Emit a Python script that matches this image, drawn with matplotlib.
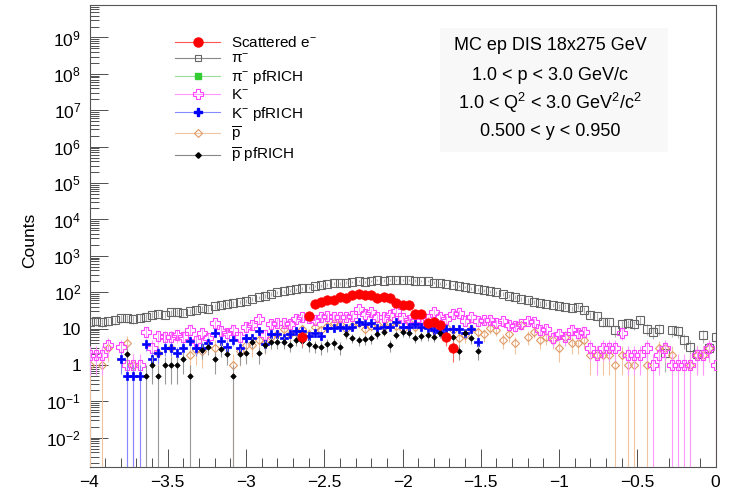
import numpy as np
import matplotlib
matplotlib.use("Agg")
import matplotlib.pyplot as plt
from matplotlib.lines import Line2D
from matplotlib.patches import Rectangle
from matplotlib.ticker import FixedLocator, FuncFormatter, MultipleLocator, NullFormatter

nan = np.nan

# bin centres in eta, step 0.04 from -4 to 0
eta = np.round(np.linspace(-4.0, 0.0, 101), 2)

# scattered electron, bins 34..58
e_first_bin = 34
electron = [5.8, 22, 47, 55, 62, 60, 73, 70, 85, 87, 85, 85, 70, 73, 70,
            52, 45, 46, 26, 26, 14, 15.6, 12.6, 5.8, 2.9]

pion = [15, 16, 15, 16, 17, 19, 19, 18, 20, 21,
        24, 26, 24, 28, 29, 27, 30, 33, 36, 35,
        42, 45, 48, 50, 55, 58, 65, 72, 80, 90,
        100, 105, 115, 120, 128, 135, 150, 155, 165, 175,
        175, 185, 190, 200, 195, 205, 215, 210, 215, 220,
        215, 215, 210, 200, 205, 185, 175, 170, 160, 150,
        140, 130, 120, 115, 105, 100, 90, 80, 75, 65,
        60, 55, 50, 48, 45, 42, 40, 37, 40, 33,
        24, 22, 15, 15, 9, 13, 14, 13, 17, 10,
        8, 10, 2.1, 9, 8.6, 4.9, 3.1, 2.0, 6.7, 2.9,
        6.0]

pion_pfrich = []  # empty in this selection

kaon = [1.9, 1.9, 1.9, 3.5, nan, 3.1, 1.0, 1.0, 1.0, 8.3,
        3.0, 6.3, 6.0, 6.0, 6.5, 6.0, 9.2, 4.7, 7.8, 5.4,
        14, 8.8, 7.4, 9.2, 6.0, 11, 12.6, 18, 6.7, 13.5,
        14.7, 14, 13.5, 18, 21, 19, 17, 21, 22.5, 21,
        21, 21, 22.5, 34, 26, 29.5, 21, 21, 24, 31,
        19.4, 17, 16, 17, 18, 29, 21, 18, 25, 27,
        16, 21, 16, 17, 17.4, 14, 15.9, 12.6, 11.5, 13,
        16.6, 14.9, 9.2, 9.5, 5.5, 7.2, 5.8, 9.2, 7.6, 8.3,
        3.0, 1.9, 3.0, 3.0, 3.0, 7.6, 1.9, 1.9, 1.9, 3.0,
        1.0, 1.9, 3.0, 1.0, 1.0, 1.0, 1.0, 1.9, 1.9, 3.0,
        1.0]

kaon_pfrich = [nan, nan, nan, nan, nan, 1.43, 0.5, 0.5, 0.5, 3.8,
               1.43, 2.1, 3.0, 3.0, 2.1, 3.0, 4.6, 3.0, 3.0, 4.0,
               7.8, 4.6, 3.2, 4.8, 3.0, 5.4, 5.4, 8.8, 3.8, 7.0,
               7.0, 5.4, 7.1, 8.8, 8.8, 6.3, 7.8, 6.3, 10.4, 10.4,
               11.3, 10.4, 11.3, 15.6, 13.7, 14, 10.4, 11.3, 11.3, 15.6,
               11.3, 11.3, 13.7, 11.3, 10.4, 9.2, 8.3, 9.5, 10, 10,
               7.4, 10, 4.4, nan, nan, nan, nan, nan, nan, nan,
               nan, nan, nan, nan, nan, nan, nan, nan, nan, nan,
               nan, nan, nan, nan, nan, nan, nan, nan, nan, nan,
               nan, nan, nan, nan, nan, nan, nan, nan, nan, nan,
               nan]

pbar = [1.0, nan, 1.0, 2.9, nan, nan, 4.1, 1.0, nan, nan,
        nan, 2.1, nan, 2.9, nan, nan, 1.9, 2.6, 2.4, nan,
        3.0, nan, nan, 1.0, 2.5, 3.6, 3.5, 5, 4, 6,
        7, 9.5, 7, 8, 10, 7, 11, 9, 12, 14,
        13, 10, 12, 14, 10, 12, 13, 11, 14, 12,
        10, 15, 11, 12, 13, 9, 10, 11, 9, 5.4,
        6.7, 10, 8.3, 7.0, 10.2, 9.2, 4.9, 7.0, 4.0, 12.6,
        6.0, 8.3, 4.9, 6.0, 4.9, 2.9, 6.0, 4.0, 4.0, 5.0,
        1.9, 1.9, 1.9, 1.9, 1.0, 1.9, 1.0, 1.0, nan, 1.0,
        nan, 2.9, 2.9, 1.9, nan, nan, 1.0, 1.9, 1.9, 2.9,
        nan]

pbar_pfrich = [nan, nan, nan, nan, nan, nan, 2.0, nan, nan, 0.5,
               1.0, 0.5, 1.0, 1.0, 1.0, 1.43, 0.5, nan, 2.6, 3.1,
               1.43, 2.8, 2.0, 0.5, 2.0, 2.1, 4.4, 2.1, 3.5, 4.3,
               4.3, 4.3, 3.6, 5.0, 4.5, 3.7, 3.4, 3.1, 3.7, 4.0,
               3.1, 7.0, 5.6, 4.9, 5.2, 5.5, 7.0, 8.2, 3.6, 6.9,
               7.9, 7.6, 5.6, 6.3, 6.5, 6.0, 7.4, 5.5, 6.0, 2.5,
               7.8, 5.5, 2.5, nan, nan, nan, nan, nan, nan, nan,
               nan, nan, nan, nan, nan, nan, nan, nan, nan, nan,
               nan, nan, nan, nan, nan, nan, nan, nan, nan, nan,
               nan, nan, nan, nan, nan, nan, nan, nan, nan, nan,
               nan]

labels = ["Scattered e$^{-}$", "π$^{-}$", "π$^{-}$ pfRICH", "K$^{-}$",
          "K$^{-}$ pfRICH", r"$\overline{\mathrm{p}}$",
          r"$\overline{\mathrm{p}}$ pfRICH"]

info_lines = ["MC ep DIS 18x275 GeV", "1.0 < p < 3.0 GeV/c",
              "1.0 < Q$^{2}$ < 3.0 GeV$^{2}$/c$^{2}$", "0.500 < y < 0.950"]

y_decades = list(range(-2, 10))

plt.rcParams['font.family'] = ['Liberation Sans', 'DejaVu Sans']
plt.rcParams['mathtext.fontset'] = 'custom'
plt.rcParams['mathtext.rm'] = 'Liberation Sans'
plt.rcParams['mathtext.it'] = 'Liberation Sans:italic'
plt.rcParams['mathtext.bf'] = 'Liberation Sans:bold'


def draw_hist(ax, x, y, weight, marker, color, ecolor, size, filled, mew=0.8, z=3):
    x = np.asarray(x, dtype=float)
    y = np.asarray(y, dtype=float)
    ok = ~np.isnan(y)
    x, y = x[ok], y[ok]
    err = np.sqrt(weight * y)
    lower = np.where(y - err <= 0, y - 1e-6, err)
    ax.errorbar(x, y, yerr=[lower, err], fmt='none', ecolor=ecolor,
                elinewidth=0.8, capsize=0, zorder=z)
    ax.plot(x, y, linestyle='none', marker=marker, markersize=size,
            markeredgecolor=color, markerfacecolor=color if filled else 'none',
            markeredgewidth=mew, zorder=z + 0.5)


fig = plt.figure(figsize=(7.37, 4.94), dpi=100)
ax = fig.add_axes([89.5 / 737, 1 - 467 / 494, 626 / 737, 462 / 494])
ax.set_yscale('log')

col_e, col_pi, col_pipf = '#ff0000', '#666666', '#33cc33'
col_k, col_kpf = '#ff44ff', '#0000ff'
col_p, col_ppf = '#e09a66', '#000000'

draw_hist(ax, eta, pion, 1.0, 's', col_pi, '#b0b0b0', 6.0, False, mew=0.8, z=2)
draw_hist(ax, eta[:len(pion_pfrich)], pion_pfrich, 1.0, 's', col_pipf, col_pipf, 5, True)
draw_hist(ax, eta, pbar, 1.0, 'D', col_p, '#f0c4a0', 3.8, False, mew=0.8, z=3)
draw_hist(ax, eta, kaon, 1.0, 'P', col_k, '#ff99ff', 6.5, False, mew=0.8, z=4)
draw_hist(ax, eta, kaon_pfrich, 0.5, 'P', col_kpf, '#8888ff', 5.8, True, mew=0.5, z=5)
draw_hist(ax, eta, pbar_pfrich, 0.5, 'D', col_ppf, '#999999', 2.8, True, mew=0.5, z=6)
draw_hist(ax, eta[e_first_bin:e_first_bin + len(electron)], electron, 1.0, 'o',
          col_e, '#ff6666', 6.8, True, mew=0.5, z=7)

ax.set_xlim(-4, 0)
ax.set_ylim(1.58e-3, 7.8e9)

ax.xaxis.set_major_locator(MultipleLocator(0.5))
ax.xaxis.set_minor_locator(MultipleLocator(0.1))
ax.yaxis.set_major_locator(FixedLocator([10.0 ** n for n in y_decades]))
minor_y = [m * 10.0 ** n for n in range(-3, 10) for m in range(2, 10)]
ax.yaxis.set_minor_locator(FixedLocator(minor_y))
ax.yaxis.set_minor_formatter(NullFormatter())


def log_label(v, pos):
    n = int(round(np.log10(v)))
    if n == 0:
        return "1"
    if n == 1:
        return "10"
    return r"$\mathregular{10^{%d}}$" % n


ax.yaxis.set_major_formatter(FuncFormatter(log_label))
ax.xaxis.set_major_formatter(FuncFormatter(lambda v, p: ("%g" % v).replace("-", "\u2212")))
ax.tick_params(which='both', direction='in', top=False, right=False,
               color='#333333', width=0.6, labelsize=12.5)
ax.tick_params(which='major', length=13)
ax.tick_params(which='minor', length=6.5)
ax.tick_params(axis='y', pad=6)
ax.tick_params(axis='x', pad=6)
for sp in ax.spines.values():
    sp.set_linewidth(0.8)
    sp.set_color('#555555')

ax.set_ylabel("Counts", fontsize=12.5)
ax.yaxis.set_label_coords(-0.083, 0.49)

handles = [
    Line2D([], [], color='#ff5555', lw=0.8, marker='o', ms=6.5, mfc=col_e, mec=col_e),
    Line2D([], [], color='#888888', lw=0.8, marker='s', ms=5, mfc='none', mec=col_pi, mew=0.8),
    Line2D([], [], color='#99dd99', lw=0.8, marker='s', ms=5, mfc=col_pipf, mec=col_pipf),
    Line2D([], [], color='#ff99ff', lw=0.8, marker='P', ms=6.5, mfc='none', mec=col_k, mew=0.8),
    Line2D([], [], color='#8888ff', lw=0.8, marker='P', ms=5.8, mfc=col_kpf, mec=col_kpf),
    Line2D([], [], color='#f0c4a0', lw=0.8, marker='D', ms=3.8, mfc='none', mec=col_p, mew=0.8),
    Line2D([], [], color='#888888', lw=0.8, marker='D', ms=2.8, mfc=col_ppf, mec=col_ppf),
]
ax.legend(handles, labels, loc='upper left', bbox_to_anchor=(175 / 737, 1 - 35 / 494),
          bbox_transform=fig.transFigure, frameon=False, fontsize=11,
          handlelength=2.95, handletextpad=0.7, labelspacing=0.14,
          borderpad=0, borderaxespad=0)

ax.add_patch(Rectangle((440 / 737, 1 - 152 / 494), 228 / 737, 124 / 494,
                       transform=fig.transFigure, facecolor='#f8f8f8',
                       edgecolor='none', zorder=1))
for txt, ypix in zip(info_lines, [46, 75, 103, 131]):
    fig.text(550 / 737, 1 - ypix / 494, txt, ha='center', va='center',
             fontsize=13, zorder=10)

fig.savefig("out.png", dpi=100)
